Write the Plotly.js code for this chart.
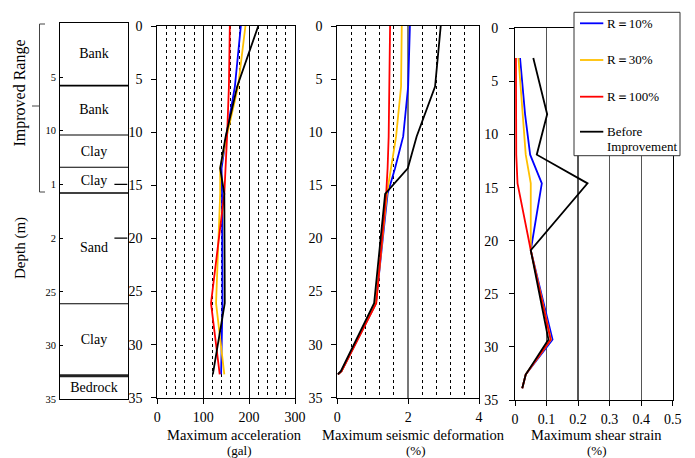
<!DOCTYPE html>
<html>
<head>
<meta charset="utf-8">
<script src="https://cdn.plot.ly/plotly-3.0.1.min.js"></script>
<style>html,body{margin:0;padding:0;background:#fff;}#chart{width:695px;height:458px;}</style>
</head>
<body>
<div id="chart"></div>
<script>
// ---------------- data ----------------
const seriesNames = ['R\uFF1D10%', 'R\uFF1D30%', 'R\uFF1D100%', 'Before\nImprovement'];

// Maximum acceleration (gal)
const accDepth  = [0, 5.7, 10.4, 13.4, 15.8, 26.1, 32.8];
const accR10    = [182, 169, 150, 140, 141, 142, 139];
const accR30    = [192, 176, 151, 137, 137, 128, 146];
const accR100   = [158, 156, 152, 148, 146, 117, 136];
const accBefore = [220, 174, 149, 137, 146, 147, 121];

// Maximum seismic deformation (%)
const defDepth  = [0, 5.7, 10.4, 13.4, 15.8, 26.1, 32.5, 32.8];
const defR10    = [2.05, 2.00, 1.86, 1.63, 1.42, 1.09, 0.12, 0.02];
const defR30    = [1.82, 1.80, 1.66, 1.51, 1.40, 1.09, 0.12, 0.02];
const defR100   = [1.49, 1.47, 1.45, 1.42, 1.38, 1.10, 0.12, 0.02];
const defBefore = [2.92, 2.76, 2.24, 1.99, 1.35, 1.04, 0.10, 0.01];

// Maximum shear strain (%)
const shearDepth  = [2.8, 8.1, 11.9, 14.6, 20.9, 29.3, 32.6, 33.9];
const shearR10    = [0.016, 0.032, 0.048, 0.085, 0.050, 0.119, 0.034, 0.023];
const shearR30    = [0.011, 0.024, 0.034, 0.050, 0.050, 0.114, 0.034, 0.023];
const shearR100   = [0.003, 0.003, 0.004, 0.008, 0.050, 0.113, 0.034, 0.023];
const shearBefore = [0.058, 0.102, 0.069, 0.230, 0.050, 0.106, 0.034, 0.023];

// Soil column
const layerBounds     = [5.8, 10.4, 13.4, 15.8, 26.1, 32.8];
const layerNames      = ['Bank', 'Bank', 'Clay', 'Clay', 'Sand', 'Clay', 'Bedrock'];
const layerLabelDepth = [2.9, 8.1, 12.0, 14.7, 21.0, 29.5, 34.0];
const soilTickVals    = [5, 10, 15, 20, 25, 30, 35];
const soilTickText    = ['5', '10', '1', '2', '25', '30', '35'];

const depthTicks = [0, 5, 10, 15, 20, 25, 30, 35];

// ---------------- drawing ----------------
const W = 695, H = 458;
const px = x => x / W;
const py = y => 1 - y / H;
const FONT = 'Liberation Serif';
const colors = ['#0000FF', '#FFC000', '#FF0000', '#000000'];

const traces = [];
const panels = [
  {xa: 'x',  ya: 'y',  d: accDepth,   s: [accR10, accR30, accR100, accBefore]},
  {xa: 'x2', ya: 'y2', d: defDepth,   s: [defR10, defR30, defR100, defBefore]},
  {xa: 'x3', ya: 'y3', d: shearDepth, s: [shearR10, shearR30, shearR100, shearBefore]}
];
panels.forEach(p => {
  p.s.forEach((vals, i) => {
    traces.push({
      type: 'scatter', mode: 'lines', x: vals, y: p.d, xaxis: p.xa, yaxis: p.ya,
      name: seriesNames[i].replace('\n', ' '), showlegend: false,
      line: {color: colors[i], width: 1.8}, hoverinfo: 'skip'
    });
  });
});
// soil layer names
traces.push({
  type: 'scatter', mode: 'text', x: layerNames.map(() => 0.5), y: layerLabelDepth,
  text: layerNames, xaxis: 'x4', yaxis: 'y4', showlegend: false,
  textfont: {family: FONT, size: 14, color: '#000'}, hoverinfo: 'skip'
});

const yMain = (dom, standoff) => ({
  domain: dom, range: [35, 0], autorange: false, tickvals: depthTicks,
  showgrid: false, zeroline: false, showline: true, mirror: true, linecolor: '#000', linewidth: 1,
  ticks: 'outside', ticklen: 5, tickcolor: '#000', tickfont: {family: FONT, size: 14, color: '#000'},
  ticklabelstandoff: standoff
});
const xCommon = {
  zeroline: false, showline: true, mirror: true, linecolor: '#000', linewidth: 1,
  ticks: 'outside', ticklen: 5, tickcolor: '#000', tickfont: {family: FONT, size: 14, color: '#000'},
  ticklabelstandoff: 1
};

const shapes = [];
// soil layer boundaries
layerBounds.forEach((d, i) => {
  const last = i === layerBounds.length - 1;
  shapes.push({type: 'line', xref: 'x4', yref: 'y4', x0: 0, x1: 1, y0: d, y1: d,
    line: {color: last ? '#222' : '#000', width: last ? 3 : (i === 0 || i === 3 ? 1.6 : 1.1)}});
});
// small marks in soil column at 15 and 20
[15, 20].forEach(d => shapes.push({type: 'line', xref: 'x4', yref: 'y4', x0: 0.8, x1: 0.99, y0: d, y1: d,
  line: {color: '#000', width: 1.2}}));
// improved range bracket
const br = (x0, y0, x1, y1, c, w) => shapes.push({type: 'line', xref: 'paper', yref: 'paper',
  x0: px(x0), y0: py(y0), x1: px(x1), y1: py(y1), line: {color: c || '#444', width: w || 1}});
br(39.5, 24, 39.5, 192);
br(39.5, 24, 45, 24);
br(39.5, 192, 45, 192);
br(39.5, 106, 32, 106);

const ann = (text, x, y, size, angle, xanchor) => ({
  text: text, x: px(x), y: py(y), xref: 'paper', yref: 'paper', showarrow: false,
  xanchor: xanchor || 'center', yanchor: 'middle', textangle: angle || 0,
  font: {family: FONT, size: size, color: '#000'}
});

const annotations = [
  ann('Maximum acceleration', 234.5, 434.5, 14.5),
  ann('(gal)', 239.7, 450.5, 13),
  ann('Maximum seismic deformation', 413.5, 434.5, 14.5),
  ann('(%)', 416, 450.5, 13),
  ann('Maximum shear strain', 596, 434.5, 14.5),
  ann('(%)', 597, 450.5, 13),
  ann('Improved Range', 20, 93.5, 16, -90),
  ann('Depth (m)', 20, 248, 15, -90)
];

// legend box (drawn on top of the strain panel)
shapes.push({type: 'rect', xref: 'paper', yref: 'paper', x0: px(574), x1: px(680), y0: py(155.7), y1: py(12.3),
  line: {color: '#333', width: 1}, fillcolor: '#fff', layer: 'above'});
const legRowY = [23.3, 60, 96.7, 131.7];
seriesNames.forEach((name, i) => {
  br(580, legRowY[i], 603.3, legRowY[i], colors[i], 1.8);
  name.split('\n').forEach((line, k) => annotations.push(ann(line, 604.5, legRowY[i] + k * 14.7, 13, 0, 'left')));
});

const layout = {
  width: W, height: H, autosize: false,
  margin: {l: 0, r: 0, t: 0, b: 0, pad: 0},
  paper_bgcolor: '#fff', plot_bgcolor: '#fff',
  font: {family: FONT, color: '#000'},
  showlegend: false,
  xaxis: Object.assign({}, xCommon, {
    domain: [px(157.3), px(295)], anchor: 'y', range: [0, 300], tickvals: [0, 100, 200, 300],
    showgrid: true, gridcolor: '#000', gridwidth: 1,
    minor: {dtick: 20, tick0: 0, showgrid: true, griddash: 'dot', gridcolor: '#000', gridwidth: 1, ticks: ''}
  }),
  yaxis: Object.assign(yMain([py(397.7), py(26)], 6), {anchor: 'x'}),
  xaxis2: Object.assign({}, xCommon, {
    domain: [px(337.3), px(479)], anchor: 'y2', range: [0, 4], tickvals: [0, 2, 4],
    showgrid: true, gridcolor: '#777', gridwidth: 1.5,
    minor: {dtick: 0.4, tick0: 0, showgrid: true, griddash: 'dot', gridcolor: '#000', gridwidth: 1, ticks: ''}
  }),
  yaxis2: Object.assign(yMain([py(397.7), py(26)], 6), {anchor: 'x2'}),
  xaxis3: Object.assign({}, xCommon, {
    domain: [px(515), px(672.7)], anchor: 'y3', range: [0, 0.5],
    tickvals: [0, 0.1, 0.2, 0.3, 0.4, 0.5], ticktext: ['0', '0.1', '0.2', '0.3', '0.4', '0.5'],
    showgrid: true, gridcolor: '#555', gridwidth: 1.2
  }),
  yaxis3: Object.assign(yMain([py(400), py(28.3)], 8), {anchor: 'x3'}),
  xaxis4: {domain: [px(60), px(128)], anchor: 'y4', range: [0, 1], showticklabels: false, ticks: '',
    showgrid: false, zeroline: false, showline: true, mirror: true, linecolor: '#000', linewidth: 1},
  yaxis4: {domain: [py(399.3), py(23.3)], anchor: 'x4', range: [35, 0], autorange: false,
    tickvals: soilTickVals, ticktext: soilTickText, ticks: 'inside', ticklen: 3, tickcolor: '#000',
    tickfont: {family: FONT, size: 10.5, color: '#000'}, ticklabelstandoff: 1,
    showgrid: false, zeroline: false, showline: true, mirror: true, linecolor: '#000', linewidth: 1},
  shapes: shapes,
  annotations: annotations
};

Plotly.newPlot('chart', traces, layout, {staticPlot: true, displayModeBar: false});
</script>
</body>
</html>
